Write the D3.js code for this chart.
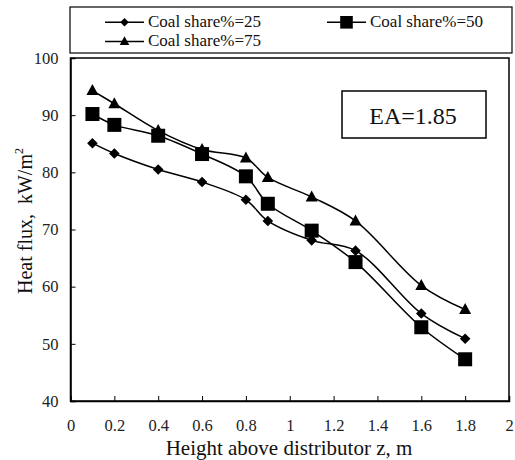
<!DOCTYPE html>
<html>
<head>
<meta charset="utf-8">
<script src="https://cdn.jsdelivr.net/npm/d3@7"></script>
<style>
  html, body { margin: 0; padding: 0; background: #fff; }
  svg text { font-family: "Liberation Serif", "Times New Roman", "DejaVu Serif", serif !important; }
</style>
</head>
<body>
<svg id="chart" width="515" height="460" font-family="Liberation Serif, serif"></svg>
<script>
// Heights above the distributor (m)
const heights = [0.1, 0.2, 0.4, 0.6, 0.8, 0.9, 1.1, 1.3, 1.6, 1.8];
// Heat flux (kW/m2) for each coal share
const flux25 = [85.1, 83.3, 80.5, 78.3, 75.2, 71.5, 68.1, 66.3, 55.3, 50.9];
const flux50 = [90.2, 88.3, 86.4, 83.2, 79.3, 74.5, 69.8, 64.3, 52.9, 47.3];
const flux75 = [94.3, 92.0, 87.3, 84.0, 82.5, 79.1, 75.7, 71.5, 60.2, 56.0];
const seriesNames = ["Coal share%=25", "Coal share%=50", "Coal share%=75"];
const xTicks = [0, 0.2, 0.4, 0.6, 0.8, 1, 1.2, 1.4, 1.6, 1.8, 2];
const yTicks = [40, 50, 60, 70, 80, 90, 100];

const FONT = "Liberation Serif, Times New Roman, serif";
const svg = d3.select("#chart");
const plot = { left: 70.5, right: 509, top: 58, bottom: 401 };

const x = d3.scaleLinear().domain([0, 2]).range([plot.left, plot.right]);
const y = d3.scaleLinear().domain([40, 100]).range([plot.bottom, plot.top]);

// plot frame
svg.append("rect")
  .attr("x", plot.left).attr("y", plot.top)
  .attr("width", plot.right - plot.left).attr("height", plot.bottom - plot.top)
  .attr("fill", "none").attr("stroke", "#000").attr("stroke-width", 1.5);

// axes with inward ticks
const xAxis = svg.append("g")
  .attr("transform", `translate(0,${plot.bottom})`)
  .call(d3.axisBottom(x).tickValues(xTicks).tickSize(-5).tickPadding(18)
    .tickFormat(d => d3.format("")(d)));
const yAxis = svg.append("g")
  .attr("transform", `translate(${plot.left},0)`)
  .call(d3.axisLeft(y).tickValues(yTicks).tickSize(-5).tickPadding(12));
[xAxis, yAxis].forEach(g => {
  g.attr("font-family", FONT).attr("font-size", 16.5);
  g.select(".domain").attr("stroke", "#000").attr("stroke-width", 1.5);
  g.selectAll(".tick line").attr("stroke", "#000").attr("stroke-width", 1);
  g.selectAll(".tick text").attr("fill", "#222");
});

// axis titles
svg.append("text")
  .attr("x", 289).attr("y", 455)
  .attr("text-anchor", "middle").attr("font-family", FONT)
  .attr("font-size", 21).attr("fill", "#111")
  .text("Height above distributor z, m");

const yt = svg.append("text")
  .attr("transform", `translate(32,221) rotate(-90)`)
  .attr("text-anchor", "middle").attr("font-family", FONT)
  .attr("font-size", 20).attr("fill", "#111");
yt.append("tspan").text("Heat flux,\u00a0\u00a0kW/m");
yt.append("tspan").attr("dy", -9).attr("font-size", 12).text("2");

// marker shapes
function drawMarker(g, kind, cx, cy, scale) {
  const s = scale || 1;
  if (kind === "diamond") {
    const h = 5.3 * s;
    g.append("path")
      .attr("d", `M${cx},${cy - h}L${cx + h},${cy}L${cx},${cy + h}L${cx - h},${cy}Z`)
      .attr("fill", "#000");
  } else if (kind === "square") {
    const h = 7 * s;
    g.append("rect").attr("x", cx - h).attr("y", cy - h)
      .attr("width", 2 * h).attr("height", 2 * h).attr("fill", "#000");
  } else {
    const w = 6 * s, t = 6.5 * s, b = 4.5 * s;
    g.append("path")
      .attr("d", `M${cx},${cy - t}L${cx + w},${cy + b}L${cx - w},${cy + b}Z`)
      .attr("fill", "#000");
  }
}

const series = [
  { name: seriesNames[0], values: flux25, kind: "diamond" },
  { name: seriesNames[1], values: flux50, kind: "square" },
  { name: seriesNames[2], values: flux75, kind: "triangle" }
];

const line = d3.line()
  .x(d => x(d[0])).y(d => y(d[1]))
  .curve(d3.curveCatmullRom.alpha(0.5));

series.forEach(s => {
  const pts = heights.map((h, i) => [h, s.values[i]]);
  svg.append("path").datum(pts)
    .attr("d", line)
    .attr("fill", "none").attr("stroke", "#000").attr("stroke-width", 1.5);
  const g = svg.append("g");
  pts.forEach(p => drawMarker(g, s.kind, x(p[0]), y(p[1]), 1));
});

// EA annotation
svg.append("rect")
  .attr("x", 342).attr("y", 91).attr("width", 144).attr("height", 47)
  .attr("fill", "#fff").attr("stroke", "#000").attr("stroke-width", 1.5);
svg.append("text")
  .attr("x", 413).attr("y", 124).attr("text-anchor", "middle")
  .attr("font-family", FONT).attr("font-size", 24).attr("fill", "#111")
  .text("EA=1.85");

// legend
svg.append("rect")
  .attr("x", 70).attr("y", 7).attr("width", 442).attr("height", 46)
  .attr("fill", "#fff").attr("stroke", "#000").attr("stroke-width", 1.2);
const legendPos = [
  { lx: 105, ty: 22.3 },
  { lx: 327, ty: 22.3 },
  { lx: 105, ty: 41.5 }
];
series.forEach((s, i) => {
  const p = legendPos[i];
  const g = svg.append("g");
  g.append("line").attr("x1", p.lx).attr("x2", p.lx + 39)
    .attr("y1", p.ty).attr("y2", p.ty)
    .attr("stroke", "#000").attr("stroke-width", 1.5);
  drawMarker(g, s.kind, p.lx + 19.5, p.ty, s.kind === "square" ? 0.9 : 0.8);
  g.append("text").attr("x", p.lx + 43).attr("y", p.ty + 4.7)
    .attr("font-family", FONT).attr("font-size", 17).attr("fill", "#111")
    .text(s.name);
});
</script>
</body>
</html>
